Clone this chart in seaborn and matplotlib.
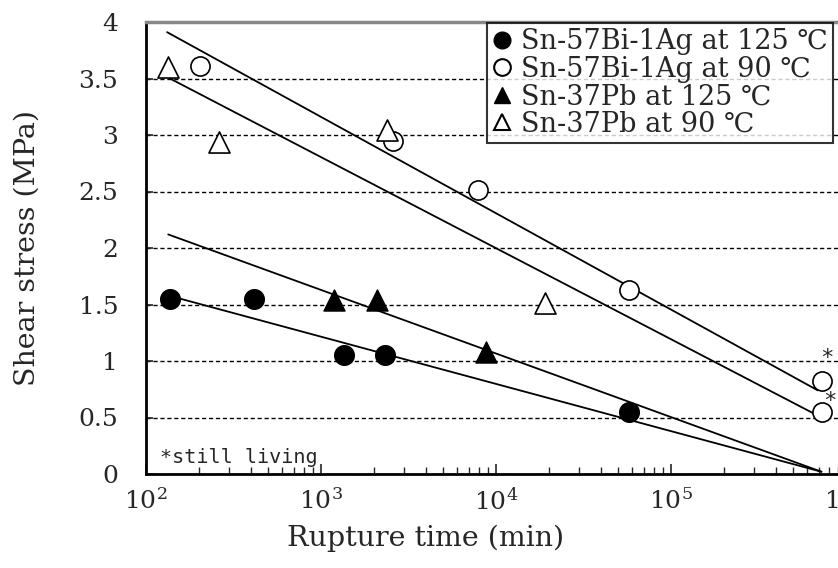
import numpy as np
import seaborn as sns
import matplotlib.pyplot as plt
from matplotlib.lines import Line2D

# data (rupture time in min, shear stress in MPa)
bi125_t = [137, 414, 1350, 2320, 57500]
bi125_s = [1.55, 1.55, 1.05, 1.05, 0.55]

bi90_t = [204, 2580, 7900, 57500, 730000, 730000]
bi90_s = [3.61, 2.95, 2.51, 1.63, 0.82, 0.55]

pb125_t = [1190, 2090, 8770]
pb125_s = [1.54, 1.54, 1.08]

pb90_t = [134, 261, 2380, 19000]
pb90_s = [3.60, 2.94, 3.04, 1.51]

# fitted lines (end points)
fit_bi90_t = [132, 690000]
fit_bi90_s = [3.91, 0.74]
fit_pb90_t = [137, 724000]
fit_pb90_s = [3.50, 0.50]
fit_pb125_t = [134, 724000]
fit_pb125_s = [2.12, 0.02]
fit_bi125_t = [134, 724000]
fit_bi125_s = [1.58, 0.02]

# still living marks
alive_t = [775000, 810000]
alive_s = [1.03, 0.65]

labels = ["Sn-57Bi-1Ag at 125 \u2103", "Sn-57Bi-1Ag at 90 \u2103",
          "Sn-37Pb at 125 \u2103", "Sn-37Pb at 90 \u2103"]
y_ticks = [0, 0.5, 1, 1.5, 2, 2.5, 3, 3.5, 4]
y_tick_labels = ["0", "0.5", "1", "1.5", "2", "2.5", "3", "3.5", "4"]
x_ticks = [1e2, 1e3, 1e4, 1e5, 1e6]
x_tick_labels = ["$10^{2}$", "$10^{3}$", "$10^{4}$", "$10^{5}$", "$10^{6}$"]

sns.set_style("white")
plt.rcParams['font.family'] = ['DejaVu Serif', 'Noto Sans CJK JP']
plt.rcParams['mathtext.fontset'] = 'dejavuserif'

fig = plt.figure(figsize=(8.38, 5.68), dpi=100)
ax = fig.add_axes([146 / 838, 94 / 568, 700 / 838, 452 / 568])

# fit lines
for t, s in [(fit_bi90_t, fit_bi90_s), (fit_pb90_t, fit_pb90_s),
             (fit_pb125_t, fit_pb125_s), (fit_bi125_t, fit_bi125_s)]:
    sns.lineplot(x=t, y=s, color="black", linewidth=1.3, ax=ax)

# points
sns.scatterplot(x=bi125_t, y=bi125_s, marker="o", s=200, color="black",
                edgecolor="black", linewidth=1, ax=ax, zorder=3)
sns.scatterplot(x=bi90_t, y=bi90_s, marker="o", s=190, facecolor="white",
                edgecolor="black", linewidth=1.2, ax=ax, zorder=3)
sns.scatterplot(x=pb125_t, y=pb125_s, marker="^", s=230, color="black",
                edgecolor="black", linewidth=1, ax=ax, zorder=3)
sns.scatterplot(x=pb90_t, y=pb90_s, marker="^", s=230, facecolor="white",
                edgecolor="black", linewidth=1.2, ax=ax, zorder=3)

for t, s in zip(alive_t, alive_s):
    ax.text(t, s, "*", fontsize=16, family="DejaVu Sans Mono", ha="center", va="center")

ax.text(121, 0.06, "*still living", fontsize=14.5, family="DejaVu Sans Mono",
        ha="left", va="bottom")

ax.set_xscale("log")
ax.set_xlim(1e2, 1e6)
ax.set_ylim(0, 4)
ax.set_xticks(x_ticks)
ax.set_xticklabels(x_tick_labels, fontsize=18)
ax.set_yticks(y_ticks)
ax.set_yticklabels(y_tick_labels, fontsize=18)
ax.tick_params(axis="y", direction="in", length=5, width=1.2, pad=20, left=True)
ax.tick_params(axis="x", which="major", direction="in", length=7, width=1.2,
               pad=10, bottom=True)
ax.tick_params(axis="x", which="minor", direction="in", length=5, width=1,
               bottom=True)

ax.yaxis.grid(True, linestyle=(0, (3, 2)), color="black", linewidth=1)
ax.xaxis.grid(False)

ax.set_xlabel("Rupture time (min)", fontsize=20.5)
ax.set_ylabel("Shear stress (MPa)", fontsize=20.5)
ax.xaxis.set_label_coords(0.40, -0.112)
ax.yaxis.set_label_coords(-0.150, 0.5)

for side in ["left", "bottom"]:
    ax.spines[side].set_color("black")
    ax.spines[side].set_linewidth(2)
ax.spines["top"].set_color("#888888")
ax.spines["top"].set_linewidth(2.5)
ax.spines["right"].set_color("black")

handles = [
    Line2D([], [], marker="o", linestyle="", markersize=12, color="black"),
    Line2D([], [], marker="o", linestyle="", markersize=12, markerfacecolor="white",
           markeredgecolor="black", markeredgewidth=1.5),
    Line2D([], [], marker="^", linestyle="", markersize=12, color="black"),
    Line2D([], [], marker="^", linestyle="", markersize=12, markerfacecolor="white",
           markeredgecolor="black", markeredgewidth=1.5),
]
leg = ax.legend(handles, labels, loc="upper left", bbox_to_anchor=(0.487, 0.998),
                frameon=True, fontsize=19.5, handlelength=0.7, handletextpad=0.35,
                borderpad=0.2, labelspacing=0.02, borderaxespad=0, fancybox=False)
leg.get_frame().set_edgecolor("black")
leg.get_frame().set_linewidth(1.5)

fig.savefig("out.png", dpi=100)
